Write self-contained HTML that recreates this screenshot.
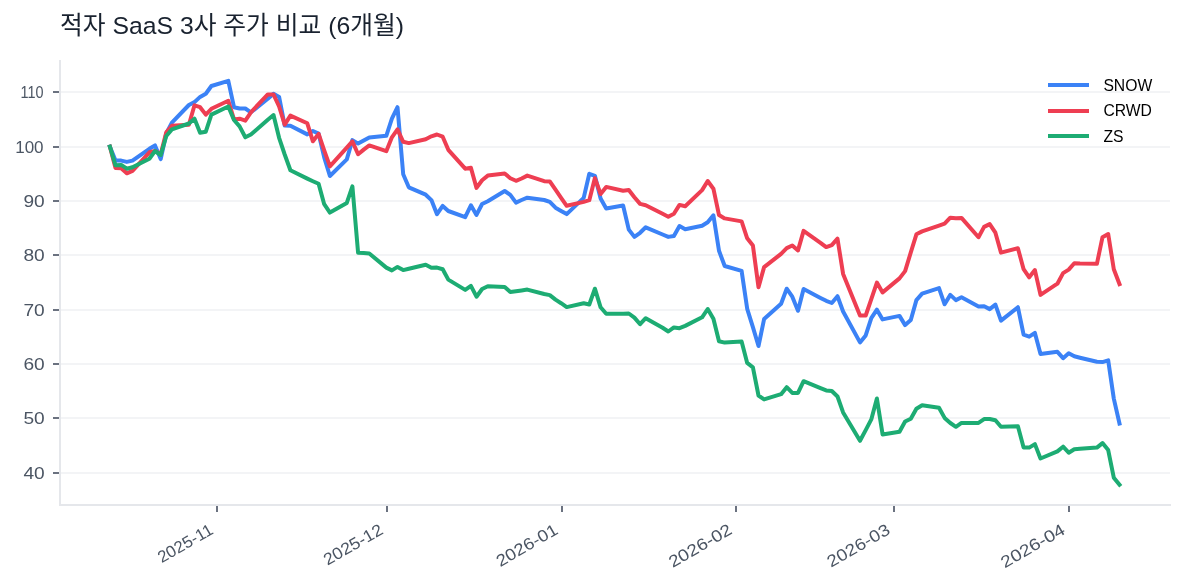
<!DOCTYPE html>
<html lang="ko"><head><meta charset="utf-8"><title>적자 SaaS 3사 주가 비교 (6개월)</title>
<style>
html,body{margin:0;padding:0;background:#fff}
body{width:1184px;height:585px;position:relative;overflow:hidden;font-family:"Liberation Sans",sans-serif}
svg{position:absolute;left:0;top:0;display:block;will-change:transform}
svg text{font-family:"Liberation Sans","Noto Sans CJK KR",sans-serif}
h1{position:absolute;left:60px;top:12px;margin:0;font:normal 25px "Liberation Sans","Noto Sans CJK KR",sans-serif;color:transparent;white-space:nowrap;width:346px;height:28px;overflow:hidden}
</style></head><body>
<h1>적자 SaaS 3사 주가 비교 (6개월)</h1>
<svg width="1184" height="585" viewBox="0 0 1184 585">
<g stroke="#f3f4f6" stroke-width="2" fill="none">
<line x1="61" y1="92" x2="1170" y2="92"/>
<line x1="61" y1="147" x2="1170" y2="147"/>
<line x1="61" y1="201" x2="1170" y2="201"/>
<line x1="61" y1="255" x2="1170" y2="255"/>
<line x1="61" y1="310" x2="1170" y2="310"/>
<line x1="61" y1="364" x2="1170" y2="364"/>
<line x1="61" y1="418" x2="1170" y2="418"/>
<line x1="61" y1="473" x2="1170" y2="473"/>
</g>
<polyline fill="none" stroke="#3b82f6" stroke-width="4.0" stroke-linejoin="round" stroke-linecap="square" points="109.9,146.7 115.5,160.6 121.2,160.6 126.8,161.9 132.5,160.6 149.4,148.8 155.0,145.4 160.7,159.1 166.3,133.5 171.9,122.6 188.9,105.0 194.5,102.1 200.1,96.9 205.8,93.7 211.4,86.0 228.3,80.9 234.0,107.2 239.6,108.5 245.3,108.5 250.9,112.3 267.8,98.8 273.5,93.7 279.1,96.9 284.7,125.6 290.4,125.7 307.3,134.4 312.9,131.0 318.6,133.6 324.2,157.4 329.9,176.0 346.8,159.4 352.4,140.1 358.1,143.6 363.7,140.5 369.3,137.4 386.3,135.8 391.9,118.7 397.5,107.2 403.2,174.2 408.8,187.3 425.7,194.7 431.4,200.1 437.0,214.2 442.7,205.9 448.3,211.0 465.2,217.1 470.9,205.3 476.5,214.9 482.1,204.0 487.8,201.2 504.7,191.0 510.3,194.9 516.0,202.6 521.6,200.0 527.3,197.7 544.2,200.0 549.8,201.9 555.5,207.7 561.1,210.9 566.7,214.1 583.7,197.9 589.3,173.8 594.9,175.8 600.6,198.5 606.2,208.5 623.1,205.5 628.8,229.6 634.4,236.9 640.1,232.8 645.7,227.3 662.6,234.5 668.3,236.9 673.9,236.0 679.5,226.0 685.2,229.2 702.1,225.8 707.7,222.3 713.4,215.3 719.0,250.8 724.7,266.0 741.6,270.9 747.2,308.8 752.9,327.2 758.5,346.0 764.1,319.1 781.1,303.7 786.7,288.7 792.3,296.7 798.0,310.8 803.6,289.0 820.5,297.9 826.2,300.8 831.8,303.0 837.5,296.2 843.1,311.5 860.0,342.4 865.7,335.4 871.3,318.1 876.9,309.7 882.6,319.4 899.5,315.9 905.1,325.1 910.8,320.0 916.4,300.1 922.1,293.7 939.0,288.1 944.6,304.3 950.3,294.9 955.9,300.1 961.5,297.3 978.5,306.5 984.1,306.2 989.7,309.1 995.4,304.6 1001.0,320.6 1017.9,307.2 1023.6,334.7 1029.2,336.7 1034.9,332.9 1040.5,354.0 1057.4,351.8 1063.1,358.2 1068.7,353.3 1074.3,356.3 1080.0,357.7 1096.9,361.7 1102.5,362.1 1108.2,360.4 1113.8,398.6 1119.5,423.5"/>
<polyline fill="none" stroke="#ee3e52" stroke-width="4.0" stroke-linejoin="round" stroke-linecap="square" points="109.9,146.7 115.5,168.1 121.2,168.3 126.8,173.3 132.5,170.8 149.4,152.3 155.0,151.0 160.7,154.2 166.3,132.2 171.9,125.8 188.9,124.7 194.5,105.3 200.1,107.2 205.8,114.6 211.4,108.8 228.3,100.8 234.0,119.4 239.6,118.7 245.3,120.6 250.9,112.3 267.8,94.4 273.5,94.4 279.1,106.5 284.7,124.6 290.4,115.6 307.3,123.3 312.9,141.3 318.6,133.9 324.2,150.4 329.9,166.4 346.8,147.7 352.4,141.4 358.1,154.2 363.7,149.6 369.3,145.4 386.3,151.2 391.9,137.3 397.5,129.4 403.2,141.8 408.8,143.1 425.7,139.2 431.4,136.3 437.0,134.5 442.7,136.7 448.3,149.8 465.2,168.7 470.9,167.8 476.5,187.9 482.1,180.2 487.8,175.6 504.7,173.5 510.3,178.2 516.0,180.8 521.6,178.5 527.3,175.6 544.2,181.2 549.8,181.4 555.5,189.7 561.1,197.8 566.7,205.8 583.7,201.9 589.3,200.2 594.9,178.1 600.6,194.0 606.2,186.9 623.1,190.8 628.8,190.0 634.4,197.2 640.1,203.9 645.7,205.2 662.6,213.8 668.3,216.7 673.9,213.8 679.5,204.9 685.2,206.2 702.1,190.1 707.7,181.0 713.4,188.7 719.0,215.1 724.7,218.4 741.6,221.4 747.2,238.3 752.9,245.5 758.5,287.2 764.1,267.1 781.1,253.8 786.7,248.1 792.3,245.5 798.0,250.4 803.6,230.9 820.5,242.8 826.2,247.1 831.8,245.1 837.5,238.7 843.1,273.9 860.0,315.5 865.7,315.5 871.3,299.1 876.9,282.6 882.6,292.4 899.5,278.4 905.1,271.1 910.8,252.4 916.4,234.3 922.1,231.4 939.0,225.6 944.6,223.7 950.3,217.7 955.9,218.3 961.5,217.9 978.5,237.2 984.1,226.9 989.7,224.1 995.4,232.7 1001.0,252.6 1017.9,248.2 1023.6,269.2 1029.2,277.3 1034.9,270.1 1040.5,294.9 1057.4,283.7 1063.1,273.1 1068.7,269.6 1074.3,263.2 1080.0,263.5 1096.9,263.8 1102.5,237.2 1108.2,234.0 1113.8,269.2 1119.5,284.2"/>
<polyline fill="none" stroke="#1dac73" stroke-width="4.0" stroke-linejoin="round" stroke-linecap="square" points="109.9,146.7 115.5,165.3 121.2,164.9 126.8,168.7 132.5,167.2 149.4,158.7 155.0,151.0 160.7,155.0 166.3,136.0 171.9,129.4 188.9,123.5 194.5,118.7 200.1,132.8 205.8,131.7 211.4,114.6 228.3,106.5 234.0,120.0 239.6,126.4 245.3,137.3 250.9,134.5 267.8,119.7 273.5,115.0 279.1,137.8 284.7,154.5 290.4,170.3 307.3,178.6 312.9,181.2 318.6,183.8 324.2,204.2 329.9,212.6 346.8,202.9 352.4,186.3 358.1,252.8 363.7,253.1 369.3,253.5 386.3,267.6 391.9,270.4 397.5,266.9 403.2,270.1 408.8,268.7 425.7,264.7 431.4,267.8 437.0,267.6 442.7,269.2 448.3,279.6 465.2,289.9 470.9,285.8 476.5,296.7 482.1,289.0 487.8,286.2 504.7,287.1 510.3,291.9 516.0,291.2 521.6,290.4 527.3,289.6 544.2,294.0 549.8,295.1 555.5,299.6 561.1,303.2 566.7,307.1 583.7,303.2 589.3,304.5 594.9,288.7 600.6,307.3 606.2,313.7 623.1,313.7 628.8,313.5 634.4,317.6 640.1,324.2 645.7,318.2 662.6,327.8 668.3,331.5 673.9,327.4 679.5,328.2 685.2,325.9 702.1,317.3 707.7,309.0 713.4,318.8 719.0,341.3 724.7,342.6 741.6,341.5 747.2,362.9 752.9,367.3 758.5,395.5 764.1,399.4 781.1,394.2 786.7,387.2 792.3,392.9 798.0,392.9 803.6,381.2 820.5,388.1 826.2,390.4 831.8,391.0 837.5,396.5 843.1,412.4 860.0,440.8 865.7,430.1 871.3,419.4 876.9,398.5 882.6,434.4 899.5,431.8 905.1,421.5 910.8,418.7 916.4,408.7 922.1,405.3 939.0,407.8 944.6,417.9 950.3,423.0 955.9,426.8 961.5,422.9 978.5,422.9 984.1,419.1 989.7,419.0 995.4,420.3 1001.0,426.8 1017.9,426.2 1023.6,447.6 1029.2,447.6 1034.9,444.1 1040.5,458.5 1057.4,451.4 1063.1,446.7 1068.7,452.7 1074.3,449.2 1080.0,448.8 1096.9,447.6 1102.5,443.1 1108.2,450.1 1113.8,477.7 1119.5,484.8"/>
<path d="M60 61V505H1170" stroke="#e5e7eb" stroke-width="2" fill="none" stroke-linecap="square" stroke-linejoin="miter"/>
<g stroke="#6b7280" stroke-width="2" fill="none">
<line x1="53" y1="92" x2="59" y2="92"/>
<line x1="53" y1="147" x2="59" y2="147"/>
<line x1="53" y1="201" x2="59" y2="201"/>
<line x1="53" y1="255" x2="59" y2="255"/>
<line x1="53" y1="310" x2="59" y2="310"/>
<line x1="53" y1="364" x2="59" y2="364"/>
<line x1="53" y1="418" x2="59" y2="418"/>
<line x1="53" y1="473" x2="59" y2="473"/>
<line x1="217" y1="506" x2="217" y2="512"/>
<line x1="387" y1="506" x2="387" y2="512"/>
<line x1="562" y1="506" x2="562" y2="512"/>
<line x1="736" y1="506" x2="736" y2="512"/>
<line x1="894" y1="506" x2="894" y2="512"/>
<line x1="1069" y1="506" x2="1069" y2="512"/>
</g>
<g fill="#4b5563" font-size="16.6" text-anchor="end">
<text x="43.6" y="98.15" textLength="23.0" lengthAdjust="spacingAndGlyphs">110</text>
<text x="43.6" y="153.15" textLength="28.4" lengthAdjust="spacingAndGlyphs">100</text>
<text x="44.7" y="207.15" textLength="21.3" lengthAdjust="spacingAndGlyphs">90</text>
<text x="44.7" y="261.15" textLength="21.3" lengthAdjust="spacingAndGlyphs">80</text>
<text x="44.7" y="316.15" textLength="21.3" lengthAdjust="spacingAndGlyphs">70</text>
<text x="44.7" y="370.15" textLength="21.3" lengthAdjust="spacingAndGlyphs">60</text>
<text x="44.7" y="424.15" textLength="21.3" lengthAdjust="spacingAndGlyphs">50</text>
<text x="44.7" y="479.15" textLength="21.3" lengthAdjust="spacingAndGlyphs">40</text>
</g>
<g fill="#4b5563" font-size="16.6" text-anchor="end">
<text transform="translate(214.3 533.00) rotate(-30)" textLength="60.7" lengthAdjust="spacingAndGlyphs">2025-11</text>
<text transform="translate(384.3 533.00) rotate(-30)" textLength="65.6" lengthAdjust="spacingAndGlyphs">2025-12</text>
<text transform="translate(559.3 533.00) rotate(-30)" textLength="68.3" lengthAdjust="spacingAndGlyphs">2026-01</text>
<text transform="translate(733.3 533.00) rotate(-30)" textLength="70.0" lengthAdjust="spacingAndGlyphs">2026-02</text>
<text transform="translate(891.3 533.00) rotate(-30)" textLength="69.5" lengthAdjust="spacingAndGlyphs">2026-03</text>
<text transform="translate(1066.3 533.00) rotate(-30)" textLength="71.0" lengthAdjust="spacingAndGlyphs">2026-04</text>
</g>
<g stroke-width="4.0" fill="none">
<line x1="1048.0" y1="85.00" x2="1089.0" y2="85.00" stroke="#3b82f6"/>
<line x1="1048.0" y1="111.00" x2="1089.0" y2="111.00" stroke="#ee3e52"/>
<line x1="1048.0" y1="136.00" x2="1089.0" y2="136.00" stroke="#1dac73"/>
</g>
<g fill="#000000" font-size="15.7">
<text x="1103.4" y="90.80">SNOW</text>
<text x="1103.4" y="116.10">CRWD</text>
<text x="1103.4" y="141.60">ZS</text>
</g>
<text x="60" y="34" font-size="24.5" fill="#19222f" textLength="344" lengthAdjust="spacingAndGlyphs">적자 SaaS 3사 주가 비교 (6개월)</text>
</svg>
</body></html>
